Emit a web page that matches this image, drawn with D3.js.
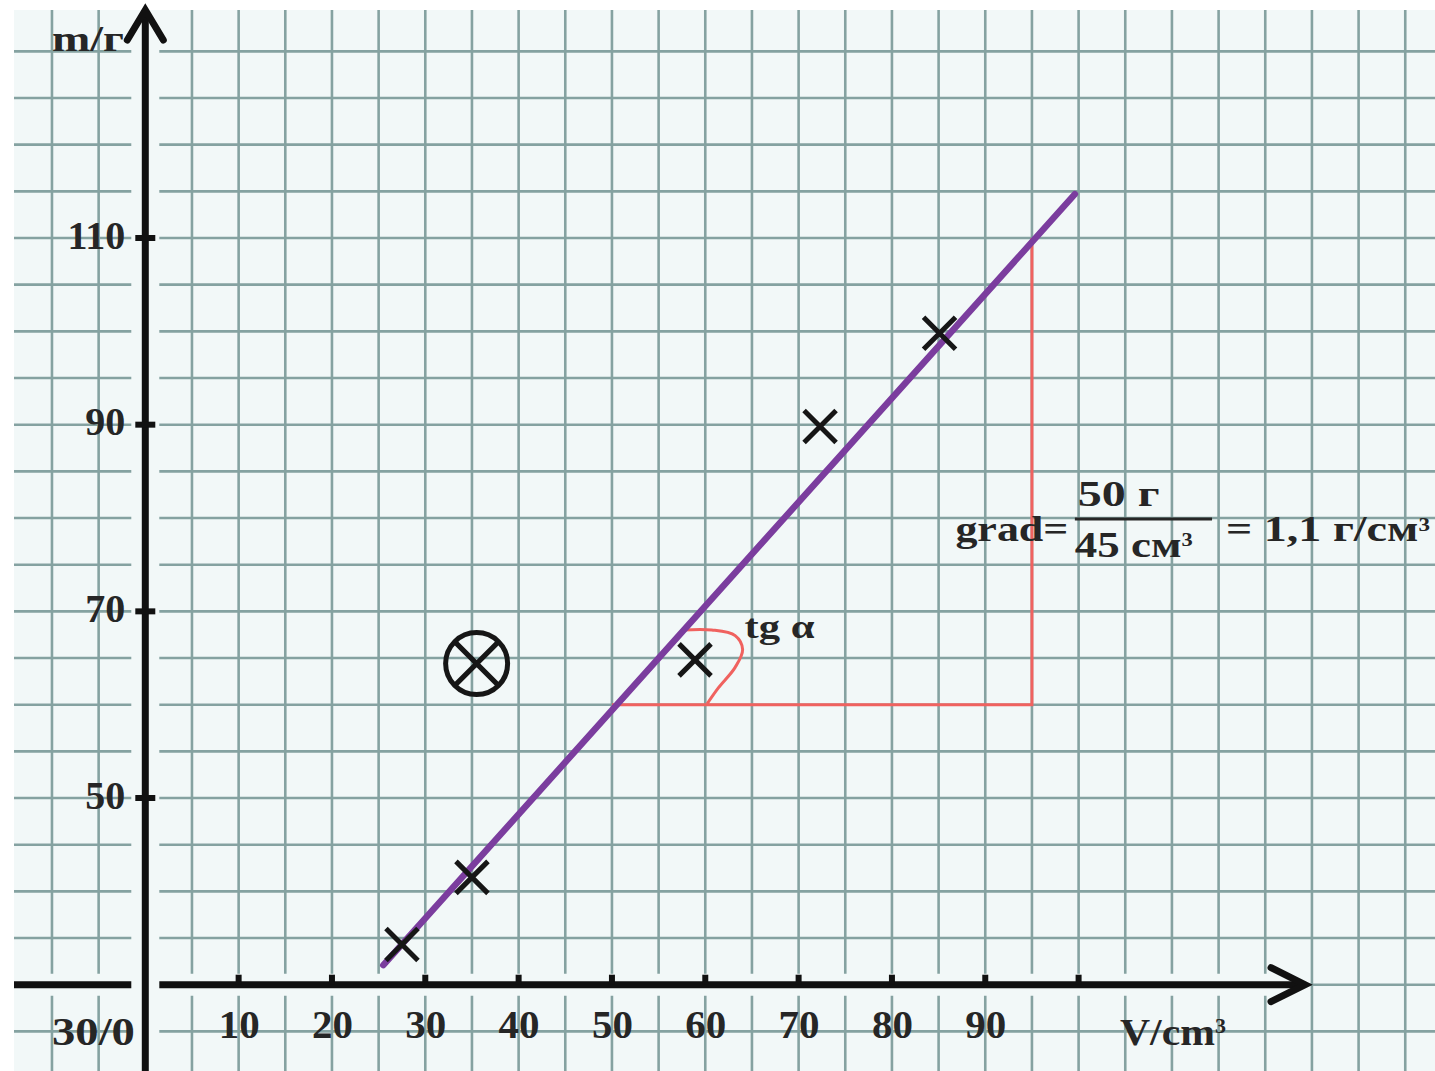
<!DOCTYPE html>
<html>
<head>
<meta charset="utf-8">
<script src="https://cdn.jsdelivr.net/npm/d3@7"></script>
<style>
  body { margin: 0; background: #fff; }
  text { font-family: "Liberation Serif", "Times New Roman", serif; font-weight: bold; fill: #262626; }
</style>
</head>
<body>
<div id="chart-area"></div>
<script>

// measured points (V in cm3, m in g)
var volumes = [27.5, 35.0, 58.9, 72.3, 85.1];
var masses = [34.3, 41.5, 64.8, 89.8, 99.8];

// rejected point (circled)
var outlierV = [35.5];
var outlierM = [64.4];

// line of best fit, end points
var fitV = [25.5, 99.6];
var fitM = [32.1, 114.7];

// gradient triangle
var triV = [50, 95, 95];
var triM = [60, 60, 110];

// angle mark
var arcV = [57.6, 60.7, 63.2, 64.0, 63.2, 61.4, 60.2];
var arcM = [68.0, 68.0, 67.4, 65.9, 64.0, 61.8, 60.1];

var xTicks = [10, 20, 30, 40, 50, 60, 70, 80, 90, 100];
var xTickLabels = ["10", "20", "30", "40", "50", "60", "70", "80", "90", ""];
var yTicks = [50, 70, 90, 110];

var W = 1435, H = 1071;
var paperLeft = 14, paperTop = 10;
var bg = "#f2f8f8";
var gridColor = "#85a2a1";

var svg = d3.select("#chart-area")
.append("svg")
	.attr("width", W)
	.attr("height", H);

	// scales (one grid square = 5 units)
var x = d3.scaleLinear()
	.domain([0, 100])
	.range([145.3, 1078.6]);

var y = d3.scaleLinear()
	.domain([30, 110])
	.range([984.7, 238]);

	// graph paper
svg.append("rect")
	.attr("x", paperLeft)
	.attr("y", paperTop)
	.attr("width", W - paperLeft)
	.attr("height", H - paperTop)
	.attr("fill", bg);

var gridX = d3.range(-10, 140, 5);
var gridY = d3.range(25, 135, 5);

svg.append("g").selectAll("line")
	.data(gridX)
	.enter().append("line")
		.attr("x1", function(d){ return x(d); })
		.attr("x2", function(d){ return x(d); })
		.attr("y1", paperTop)
		.attr("y2", H)
		.attr("stroke", gridColor)
		.attr("stroke-width", 2.6);

svg.append("g").selectAll("line")
	.data(gridY)
	.enter().append("line")
		.attr("y1", function(d){ return y(d); })
		.attr("y2", function(d){ return y(d); })
		.attr("x1", paperLeft)
		.attr("x2", W)
		.attr("stroke", gridColor)
		.attr("stroke-width", 2.6);

	// X axis line with arrow
var x0 = x(0), y0 = y(30);
var xEnd = 1305;

svg.append("line")
	.attr("x1", paperLeft).attr("x2", xEnd - 4)
	.attr("y1", y0).attr("y2", y0)
	.attr("stroke", bg)
	.attr("stroke-width", 22);
svg.append("line")
	.attr("x1", paperLeft).attr("x2", xEnd - 4)
	.attr("y1", y0).attr("y2", y0)
	.attr("stroke", "#111")
	.attr("stroke-width", 7);
svg.append("path")
	.attr("d", "M" + (xEnd - 34) + "," + (y0 - 17) + "L" + xEnd + "," + y0 + "L" + (xEnd - 34) + "," + (y0 + 17))
	.attr("fill", "none")
	.attr("stroke", "#111")
	.attr("stroke-width", 7)
	.attr("stroke-linecap", "round");

	// Y axis line with arrow
var yTop = 10;
svg.append("line")
	.attr("x1", x0).attr("x2", x0)
	.attr("y1", 40).attr("y2", H)
	.attr("stroke", bg)
	.attr("stroke-width", 28);
svg.append("line")
	.attr("x1", x0).attr("x2", x0)
	.attr("y1", yTop + 3).attr("y2", H)
	.attr("stroke", "#111")
	.attr("stroke-width", 7);
svg.append("path")
	.attr("d", "M" + (x0 - 18) + "," + (yTop + 30) + "L" + x0 + "," + yTop + "L" + (x0 + 18) + "," + (yTop + 30))
	.attr("fill", "none")
	.attr("stroke", "#111")
	.attr("stroke-width", 7)
	.attr("stroke-linecap", "round");

	// tick marks
svg.append("g").selectAll("line")
	.data(xTicks)
	.enter().append("line")
		.attr("x1", function(d){ return x(d); })
		.attr("x2", function(d){ return x(d); })
		.attr("y1", y0 - 10)
		.attr("y2", y0)
		.attr("stroke", "#111")
		.attr("stroke-width", 6);

svg.append("g").selectAll("line")
	.data(yTicks)
	.enter().append("line")
		.attr("x1", x0 - 10)
		.attr("x2", x0 + 10)
		.attr("y1", function(d){ return y(d); })
		.attr("y2", function(d){ return y(d); })
		.attr("stroke", "#111")
		.attr("stroke-width", 6);

	// X Axis Call (labels only)
var xAxisCall = d3.axisBottom(x)
	.tickValues(xTicks)
	.tickSize(0)
	.tickPadding(24)
	.tickFormat(function(d, i){ return xTickLabels[i]; });
var xAxis = svg.append("g")
	.attr("class", "x axis")
	.attr("transform", "translate(0, " + y0 + ")")
	.call(xAxisCall);
xAxis.select(".domain").remove();
xAxis.attr("font-family", null).attr("font-size", null);
xAxis.selectAll("text")
	.attr("font-size", "41px")
	.attr("fill", "#262626");

	//Y Axis Call (labels only)
var yAxisCall = d3.axisLeft(y)
	.tickValues(yTicks)
	.tickSize(0)
	.tickPadding(20);
var yAxis = svg.append("g")
	.attr("class", "y axis")
	.attr("transform", "translate(" + x0 + ", 0)")
	.call(yAxisCall);
yAxis.select(".domain").remove();
yAxis.attr("font-family", null).attr("font-size", null);
yAxis.selectAll("text")
	.attr("font-size", "40px")
	.attr("dy", "0.25em")
	.attr("fill", "#262626");

// stretch a text so it spans a given width starting at its left edge
function fitWidth(t, w){
	var b = t.node().getBBox();
	var s = w / b.width;
	t.attr("transform", "translate(" + b.x + ",0) scale(" + s + ",1) translate(" + (-b.x) + ",0)");
}

	// origin label
var origin = svg.append("text")
	.attr("x", 52)
	.attr("y", y0 + 60)
	.attr("font-size", "41px")
	.text("30/0");
fitWidth(origin, 83);

	// axis names
var mLabel = svg.append("text")
	.attr("x", 52)
	.attr("y", 51)
	.attr("font-size", "36px")
	.text("m/г");
fitWidth(mLabel, 72);

var vLabel = svg.append("text")
	.attr("x", 1120)
	.attr("y", y0 + 60)
	.attr("font-size", "38px");
vLabel.append("tspan").text("V/cm");
vLabel.append("tspan").attr("dy", "-0.6em").attr("font-size", "20px").text("3");
fitWidth(vLabel, 106);

	// gradient triangle
var pathLine = d3.line()
	.x(function(d){ return x(d[0]); })
	.y(function(d){ return y(d[1]); });

svg.append("path")
	.attr("d", pathLine(d3.zip(triV, triM)))
	.attr("fill", "none")
	.attr("stroke", "#f0625f")
	.attr("stroke-width", 3);

svg.append("path")
	.attr("d", pathLine.curve(d3.curveCatmullRom)(d3.zip(arcV, arcM)))
	.attr("fill", "none")
	.attr("stroke", "#f0625f")
	.attr("stroke-width", 3);
pathLine.curve(d3.curveLinear);

	// best fit line
svg.append("path")
	.attr("d", pathLine(d3.zip(fitV, fitM)))
	.attr("fill", "none")
	.attr("stroke", "#7b3d9e")
	.attr("stroke-width", 6.5)
	.attr("stroke-linecap", "round");

	// crosses
var cross = 16;
svg.append("g").selectAll("path")
	.data(d3.zip(volumes, masses))
	.enter().append("path")
		.attr("d", function(d){
			var cx = x(d[0]), cy = y(d[1]);
			return "M" + (cx - cross) + "," + (cy - cross) + "L" + (cx + cross) + "," + (cy + cross) +
				"M" + (cx - cross) + "," + (cy + cross) + "L" + (cx + cross) + "," + (cy - cross);
		})
		.attr("stroke", "#161616")
		.attr("stroke-width", 5);

var outliers = svg.append("g").selectAll("g")
	.data(d3.zip(outlierV, outlierM))
	.enter().append("g")
		.attr("transform", function(d){ return "translate(" + x(d[0]) + "," + y(d[1]) + ")"; });
outliers.append("circle")
	.attr("r", 31)
	.attr("fill", "none")
	.attr("stroke", "#161616")
	.attr("stroke-width", 5);
outliers.append("path")
	.attr("d", "M-21,-21L21,21M-21,21L21,-21")
	.attr("stroke", "#161616")
	.attr("stroke-width", 5);

	// annotations
var tg = svg.append("text")
	.attr("x", x(64.2))
	.attr("y", y(67.1))
	.attr("font-size", "34px")
	.text("tg α");
fitWidth(tg, 70);

var grad = svg.append("text")
	.attr("x", x(86.8))
	.attr("y", y(77.5))
	.attr("font-size", "36px")
	.text("grad=");
fitWidth(grad, 113);

var num = svg.append("text")
	.attr("x", x(99.9))
	.attr("y", y(81.3))
	.attr("font-size", "36px")
	.text("50 г");
fitWidth(num, 82);

svg.append("line")
	.attr("x1", x(99.6)).attr("x2", x(114.3))
	.attr("y1", y(79.9)).attr("y2", y(79.9))
	.attr("stroke", "#262626")
	.attr("stroke-width", 3);

var den = svg.append("text")
	.attr("x", x(99.6))
	.attr("y", y(75.8))
	.attr("font-size", "36px");
den.append("tspan").text("45 см");
den.append("tspan").attr("dy", "-0.6em").attr("font-size", "18px").text("3");
fitWidth(den, 118);

var res = svg.append("text")
	.attr("x", x(115.8))
	.attr("y", y(77.5))
	.attr("font-size", "36px");
res.append("tspan").text("= 1,1 г/см");
res.append("tspan").attr("dy", "-0.6em").attr("font-size", "18px").text("3");
fitWidth(res, 204);

</script>
</body>
</html>
